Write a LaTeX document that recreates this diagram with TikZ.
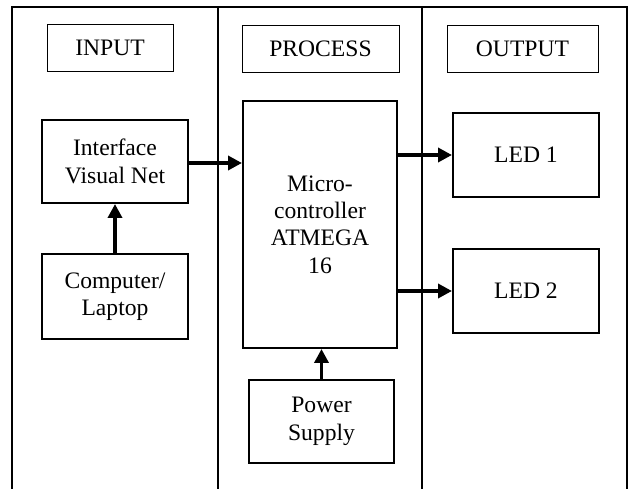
\documentclass[tikz,border=0pt]{standalone}
\usepackage{fontspec}
\setmainfont{Liberation Serif}
\usetikzlibrary{arrows.meta}
\begin{document}
\begin{tikzpicture}[x=1pt,y=-1pt,
  txt/.style={font=\fontsize{23.6}{27.4}\selectfont, align=center, inner sep=0pt},
  hdr/.style={txt, draw, line width=0.9pt, minimum width=#1, minimum height=47pt},
  blk/.style={txt, draw, line width=2pt},
  frame/.style={line width=2pt},
  arr/.style={line width=3.5pt, -{Triangle[length=14pt,width=14pt]}}]
\useasboundingbox (0,0) rectangle (630,489);
% column frames
\coordinate (fl) at (12,489);
\coordinate (ftl) at (12,7);
\coordinate (ftr) at (627,7);
\coordinate (fr) at (627,489);
\coordinate (c1t) at (218,7);
\coordinate (c1b) at (218,489);
\coordinate (c2t) at (422,7);
\coordinate (c2b) at (422,489);
\draw[frame] (fl) -- (ftl) -- (ftr) -- (fr);
\draw[frame] (c1t) -- (c1b);
\draw[frame] (c2t) -- (c2b);
% headers
\node[hdr=126pt] (hin) at (110,48) {INPUT};
\node[hdr=157pt] (hproc) at (320.5,48.5) {PROCESS};
\node[hdr=151pt] (hout) at (522.5,48.5) {OUTPUT};
% blocks
\node[blk, minimum width=146pt, minimum height=83pt] (iface) at (115,161.5) {Interface\\Visual Net};
\node[blk, minimum width=146pt, minimum height=85pt] (comp) at (115,296.5) {Computer/\\Laptop};
\node[blk, minimum width=154pt, minimum height=247pt] (micro) at (320,224.5) {Micro-\\controller\\ATMEGA\\16};
\node[blk, minimum width=145pt, minimum height=83pt] (power) at (321.5,421.5) {Power\\Supply};
\node[blk, minimum width=146pt, minimum height=84pt] (led1) at (526,155) {LED 1};
\node[blk, minimum width=146pt, minimum height=84pt] (led2) at (526,291) {LED 2};
% arrows
\draw[arr] (comp.north) -- (iface.south);
\draw[arr] ([yshift=-1.5pt]iface.east) -- ([yshift=-1.5pt]iface.east -| micro.west);
\draw[arr] (power.north) -- (power.north |- micro.south);
\draw[arr] (led1.west -| micro.east) -- (led1.west);
\draw[arr] (led2.west -| micro.east) -- (led2.west);
\end{tikzpicture}
\end{document}
